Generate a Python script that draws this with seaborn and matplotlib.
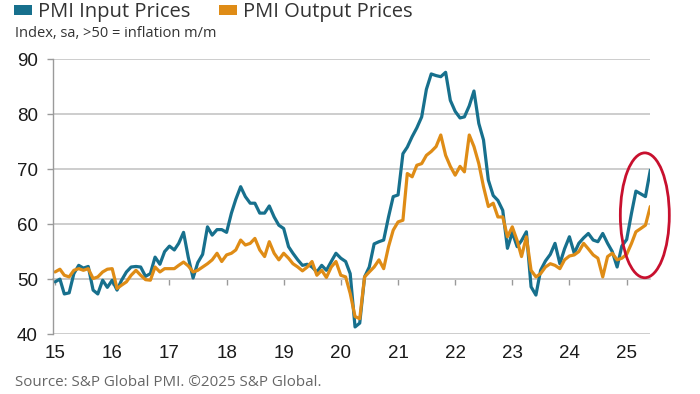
import matplotlib
matplotlib.use("Agg")
import matplotlib.pyplot as plt
import matplotlib.dates as mdates
from matplotlib.patches import Ellipse, Patch
import seaborn as sns
import numpy as np
import pandas as pd

# monthly readings, Jan 2015 - Jun 2025
input_prices = [
    49.5, 50.0, 47.3, 47.5, 51.0, 52.5, 52.0, 52.3, 48.0, 47.3, 49.8, 48.5,  # 2015
    49.8, 48.0, 49.8, 51.3, 52.2, 52.3, 52.2, 50.5, 51.0, 54.0, 52.7, 55.0,  # 2016
    56.0, 55.3, 56.5, 58.5, 54.0, 50.2, 53.0, 54.5, 59.5, 58.0, 59.0, 59.0,  # 2017
    58.5, 62.0, 64.5, 66.8, 65.0, 63.8, 63.8, 62.0, 62.0, 63.3, 61.3, 59.8,  # 2018
    59.2, 55.9, 54.7, 53.5, 52.5, 52.7, 52.2, 51.3, 52.5, 51.6, 53.2, 54.7,  # 2019
    53.8, 53.2, 51.0, 41.3, 42.0, 50.4, 52.2, 56.4, 56.8, 57.1, 61.3, 65.0,  # 2020
    65.3, 72.8, 74.0, 75.9, 77.5, 79.5, 84.5, 87.3, 87.0, 86.8, 87.6, 82.5,  # 2021
    80.5, 79.3, 79.5, 81.5, 84.2, 78.3, 75.3, 68.0, 65.2, 64.3, 62.5, 55.6,  # 2022
    58.5, 55.9, 57.0, 58.6, 48.6, 47.1, 51.6, 53.3, 54.5, 56.5, 52.8, 55.5,  # 2023
    57.7, 54.7, 56.5, 57.5, 58.3, 57.1, 56.8, 58.3, 56.5, 55.0, 52.2, 56.0,  # 2024
    57.2, 62.0, 66.0, 65.5, 65.0, 69.8,                                      # 2025
]
output_prices = [
    51.3, 51.8, 50.7, 50.4, 51.6, 51.9, 51.6, 51.9, 50.1, 50.4, 51.3, 51.8,  # 2015
    51.9, 48.3, 48.9, 49.5, 50.7, 51.6, 50.7, 49.9, 49.8, 52.2, 51.3, 51.9,  # 2016
    51.9, 51.9, 52.5, 53.1, 52.4, 51.3, 51.6, 52.2, 52.8, 53.5, 54.7, 53.2,  # 2017
    54.4, 54.7, 55.3, 57.1, 56.2, 56.5, 57.4, 55.3, 54.1, 56.8, 54.7, 53.5,  # 2018
    54.7, 53.8, 52.8, 52.2, 51.5, 52.2, 53.2, 50.7, 51.6, 50.3, 52.2, 53.2,  # 2019
    50.7, 50.4, 47.4, 43.2, 42.8, 50.4, 51.3, 52.2, 53.5, 51.9, 55.9, 58.9,  # 2020
    60.4, 60.7, 69.2, 68.6, 70.7, 71.0, 72.5, 73.2, 74.1, 76.2, 72.5, 70.5,  # 2021
    68.9, 70.5, 69.5, 76.2, 74.1, 71.0, 66.8, 63.2, 63.8, 61.3, 61.3, 57.7,  # 2022
    59.5, 57.0, 54.1, 57.7, 51.6, 50.4, 51.0, 52.2, 52.8, 52.5, 51.9, 53.5,  # 2023
    54.2, 54.4, 55.0, 56.5, 55.5, 54.4, 53.8, 50.4, 54.1, 54.7, 53.5, 53.8,  # 2024
    54.5, 56.5, 58.6, 59.2, 59.8, 63.2,                                      # 2025
]
series_names = ["PMI Input Prices", "PMI Output Prices"]
series_colors = ["#17708d", "#df8c16"]
y_ticks = [40, 50, 60, 70, 80, 90]

months = pd.date_range("2015-01-01", periods=len(input_prices), freq="MS")
df = pd.DataFrame({
    "month": np.concatenate([months, months]),
    "value": input_prices + output_prices,
    "series": [series_names[0]] * len(months) + [series_names[1]] * len(months),
})

sns.set_theme(style="white")
plt.rcParams["font.family"] = ["Liberation Sans", "DejaVu Sans"]

fig = plt.figure(figsize=(7, 3.94), dpi=100)
ax = fig.add_axes([0.076, 0.152, 0.853, 0.698])

sns.lineplot(data=df, x="month", y="value", hue="series", palette=series_colors,
             linewidth=2.3, ax=ax, legend=False)

ax.set_xlim(months[0] - pd.Timedelta(days=12), months[-1])
ax.set_ylim(40, 90)
ax.set_yticks(y_ticks)
ax.grid(axis="y", color="#c9c9c9", linewidth=1.3)
ax.set_axisbelow(True)
for s in ["top", "right", "bottom"]:
    ax.spines[s].set_visible(False)
ax.spines["left"].set_color("#9a9a9a")
ax.spines["left"].set_linewidth(1.0)

ax.xaxis.set_major_locator(mdates.YearLocator())
ax.xaxis.set_major_formatter(mdates.DateFormatter("%y"))
ax.tick_params(axis="x", length=0, pad=8, labelsize=13.5, labelcolor="#1a1a1a")
ax.tick_params(axis="y", left=True, length=4, width=1, color="#9a9a9a",
               pad=7, labelsize=13.5, labelcolor="#1a1a1a")
ax.set_xlabel("")
ax.set_ylabel("")

# tick marks sitting on the 50 line
sec = ax.secondary_xaxis(0.2)
sec.xaxis.set_major_locator(mdates.YearLocator())
sec.tick_params(axis="x", length=4, width=1, color="#9a9a9a", labelbottom=False)
sec.spines["bottom"].set_color("#c9c9c9")
sec.spines["bottom"].set_linewidth(1.3)

# highlight of latest months
xc = mdates.date2num(months[-1]) - 35
ell = Ellipse((xc, 61.6), width=313, height=22.7, fill=False,
              edgecolor="#c8102e", linewidth=2.0, clip_on=False, zorder=5)
ax.add_patch(ell)

handles = [Patch(facecolor=c, edgecolor="none") for c in series_colors]
fig.legend(handles, series_names, loc="upper left", bbox_to_anchor=(0.02, 0.995),
           ncol=2, frameon=False, handlelength=0.9, handleheight=0.35,
           handletextpad=0.3, columnspacing=1.4, borderpad=0, borderaxespad=0,
           prop={"family": "Open Sans", "size": 14.5}, labelcolor="#333333")

fig.text(0.021, 0.915, "Index, sa, >50 = inflation m/m", fontsize=10.5,
         family="Open Sans", color="#333333", va="center")
fig.text(0.021, 0.028, "Source: S&P Global PMI. \u00a92025 S&P Global.", fontsize=10.9,
         family="Open Sans", color="#666666", va="center")

fig.savefig("out.png", dpi=100)
